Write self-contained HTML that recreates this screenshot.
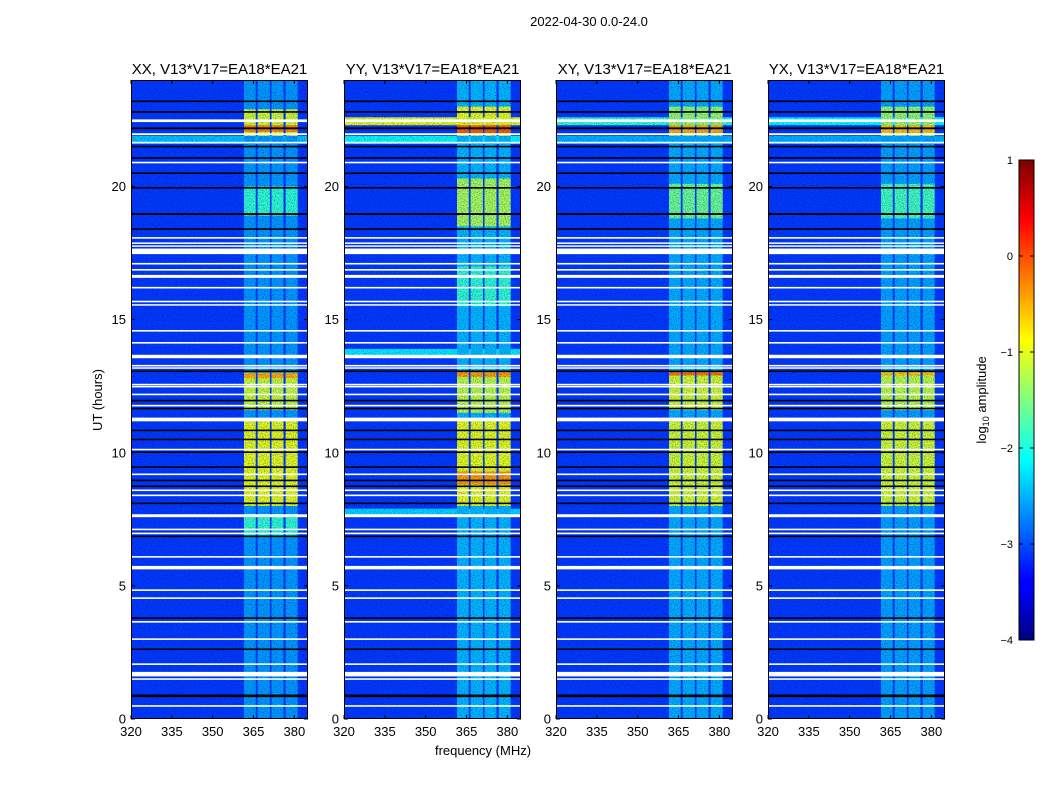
<!DOCTYPE html>
<html><head><meta charset="utf-8">
<style>
html,body{margin:0;padding:0;background:#fff;}
svg{display:block;font-family:"Liberation Sans",sans-serif;}
</style></head>
<body>
<svg id="fig" width="1050" height="800" viewBox="0 0 1050 800">
<defs>
<filter id="speckle" x="0" y="0" width="100%" height="100%">
<feTurbulence type="fractalNoise" baseFrequency="0.9" numOctaves="1" seed="3"/>
<feColorMatrix type="matrix" values="0 0 0 0 0  0 0 0 0 0  0 0 0 0 0.2  0 0 0 -2.0 1.15"/>
</filter>
<linearGradient id="jet" x1="0" y1="1" x2="0" y2="0">
<stop offset="0" stop-color="#00007f"/><stop offset="0.11" stop-color="#0000ff"/>
<stop offset="0.125" stop-color="#0000ff"/><stop offset="0.375" stop-color="#00ffff"/>
<stop offset="0.625" stop-color="#ffff00"/><stop offset="0.875" stop-color="#ff0000"/>
<stop offset="1" stop-color="#7f0000"/>
</linearGradient>
</defs>
<text x="589" y="26" font-size="13" text-anchor="middle">2022-04-30 0.0-24.0</text>
<text x="0" y="0" font-size="13" text-anchor="middle" transform="translate(102,400) rotate(-90)">UT (hours)</text>
<text x="483" y="755" font-size="13" text-anchor="middle">frequency (MHz)</text>
<g id="panels"></g>
<g id="cbar"></g>
</svg>
<script>
// ---- data ----
const titles = ["XX, V13*V17=EA18*EA21","YY, V13*V17=EA18*EA21","XY, V13*V17=EA18*EA21","YX, V13*V17=EA18*EA21"];
const freqBands = [[361.5,365.8],[366.5,371],[371.6,376],[376.8,381.2]];
const baseLevel = [-3.08,-3.08,-3.08,-3.08];
const quietBand = [-2.6,-2.45,-2.5,-2.55];
const burstsXX = [[21.9,22.9,-1.1],[22.05,22.3,-0.3],[18.9,20.0,-1.9],[11.6,13.0,-1.15],[12.8,13.0,-0.5],[8.0,11.2,-1.0],[6.9,7.7,-1.9]];
const burstsYY = [[21.9,23.0,-1.0],[22.0,22.3,-0.1],[18.5,20.3,-1.3],[15.5,17.0,-1.9],[11.5,13.0,-1.2],[12.85,13.05,-0.4],[8.0,11.2,-1.0],[8.8,9.3,-0.4]];
const burstsXY = [[21.9,23.0,-1.4],[22.0,22.3,-0.5],[18.8,20.1,-1.6],[11.6,13.0,-1.1],[12.9,13.05,-0.2],[8.0,11.2,-1.1]];
const burstsYX = [[21.9,23.0,-1.4],[22.0,22.3,-0.6],[18.8,20.1,-1.8],[11.6,13.0,-1.2],[12.9,13.05,-0.6],[8.0,11.2,-1.1]];
const rowsXX = [[21.6,21.9,-2.4]];
const rowsYY = [[22.3,22.6,-1.0],[21.6,21.9,-2.1],[13.6,13.9,-2.2],[7.6,7.9,-2.3]];
const rowsXY = [[22.3,22.6,-1.9],[21.6,21.9,-2.5]];
const rowsYX = [[22.3,22.6,-2.1],[21.6,21.9,-2.5]];
const flagWhite = [[22.42,22.52],[21.93,22.0],[21.62,21.68],[20.87,20.93],[18.04,18.1],[17.85,17.9],[17.74,17.79],[17.46,17.67],[17.07,17.13],[16.84,16.9],[16.57,16.68],[16.17,16.23],[15.65,15.71],[15.53,15.58],[14.55,14.61],[14.1,14.16],[13.55,13.68],[13.24,13.3],[13.16,13.21],[12.53,12.59],[12.46,12.51],[12.16,12.22],[11.74,11.8],[11.18,11.32],[10.09,10.15],[9.16,9.22],[8.56,8.62],[8.37,8.43],[7.58,7.69],[7.09,7.15],[6.94,7.0],[6.06,6.12],[5.62,5.75],[4.81,4.87],[4.51,4.57],[3.62,3.68],[2.97,3.03],[2.03,2.09],[1.6,1.77],[1.47,1.53],[0.46,0.52]];
const flagBlack = [[23.17,23.23],[22.77,22.83],[22.15,22.22],[21.47,21.53],[21.04,21.1],[20.47,20.53],[19.92,19.98],[18.93,19.0],[18.37,18.43],[13.03,13.09],[11.93,11.99],[11.63,11.69],[10.81,10.87],[10.47,10.53],[9.99,10.05],[9.43,9.49],[8.93,8.99],[8.71,8.77],[8.07,8.13],[6.83,6.89],[3.76,3.82],[2.59,2.65],[0.82,0.92]];
const panelBursts = [burstsXX,burstsYY,burstsXY,burstsYX];
const panelRows = [rowsXX,rowsYY,rowsXY,rowsYX];
const xTicks = [320,335,350,365,380];
const yTicks = [0,5,10,15,20];
const cbTicks = [1,0,-1,-2,-3,-4];

// ---- scales ----
const lefts=[131,344,556,768], PW=177, TOP=80, BOT=719;
const F0=320,F1=385,H0=0,H1=24,VMIN=-4,VMAX=1;
function xs(p,f){return lefts[p]+(f-F0)/(F1-F0)*PW;}
function ys(h){return BOT-(h-H0)/(H1-H0)*(BOT-TOP);}
function cl(v){return Math.max(0,Math.min(1,v));}
function jet(val){const v=cl((val-VMIN)/(VMAX-VMIN));
 const r=cl(1.5-Math.abs(4*v-3)),g=cl(1.5-Math.abs(4*v-2)),b=cl(1.5-Math.abs(4*v-1));
 return `rgb(${Math.round(r*255)},${Math.round(g*255)},${Math.round(b*255)})`;}
const NS="http://www.w3.org/2000/svg";
function el(tag,attrs,parent){const e=document.createElementNS(NS,tag);for(const k in attrs)e.setAttribute(k,attrs[k]);parent.appendChild(e);return e;}

const G=document.getElementById('panels');
for(let p=0;p<4;p++){
 const g=el('g',{},G);
 
 
 const bg=el('rect',{x:lefts[p],y:TOP,width:PW,height:BOT-TOP,fill:jet(baseLevel[p])},g);
 
 
 panelRows[p].forEach(r=>{
  const e=el('rect',{x:lefts[p],y:ys(r[1]),width:PW,height:ys(r[0])-ys(r[1]),fill:jet(r[2])},g);
  
  
 });
 freqBands.forEach(b=>{
  const e=el('rect',{x:xs(p,b[0]),y:TOP,width:xs(p,b[1])-xs(p,b[0]),height:BOT-TOP,fill:jet(quietBand[p])},g);
  
  
  panelBursts[p].forEach(r=>{
   const c=el('rect',{x:xs(p,b[0]),y:ys(r[1]),width:xs(p,b[1])-xs(p,b[0]),height:ys(r[0])-ys(r[1]),fill:jet(r[2])},g);
   
   
  });
 });
 el('rect',{x:lefts[p],y:TOP,width:PW,height:BOT-TOP,filter:'url(#speckle)',opacity:0.6},g);
 flagWhite.forEach(r=>{
  const e=el('rect',{x:lefts[p],y:ys(r[1]),width:PW,height:Math.max(1.5,ys(r[0])-ys(r[1])),fill:'#fff'},g);
  
  
 });
 flagBlack.forEach(r=>{
  const e=el('rect',{x:lefts[p],y:ys(r[1]),width:PW,height:Math.max(1.5,ys(r[0])-ys(r[1])),fill:'#000'},g);
  
  
 });
 el('rect',{x:lefts[p]+0.5,y:TOP+0.5,width:PW-1,height:BOT-TOP-1,fill:'none',stroke:'#000','stroke-width':1},g);
 const t=el('text',{x:lefts[p]+PW/2,y:74,'font-size':15,'text-anchor':'middle'},g);
 t.textContent=titles[p];
 
 
 xTicks.forEach(v=>{
  const x=xs(p,v);
  el('line',{x1:x,y1:BOT,x2:x,y2:BOT-4,stroke:'#000'},g);
  el('line',{x1:x,y1:TOP,x2:x,y2:TOP+4,stroke:'#000'},g);
  const l=el('text',{x:x,y:736,'font-size':13,'text-anchor':'middle'},g);
  l.textContent=v;
  
  
 });
 yTicks.forEach(v=>{
  const y=ys(v);
  el('line',{x1:lefts[p],y1:y,x2:lefts[p]+4,y2:y,stroke:'#000'},g);
  el('line',{x1:lefts[p]+PW,y1:y,x2:lefts[p]+PW-4,y2:y,stroke:'#000'},g);
  const l=el('text',{x:lefts[p]-5,y:y+4.5,'font-size':13,'text-anchor':'end'},g);
  l.textContent=v;
  
  
 });
}
// colorbar
const CB=document.getElementById('cbar');


const cbx=1019,cbw=15,cbt=160,cbb=640;
el('rect',{x:cbx,y:cbt,width:cbw,height:cbb-cbt,fill:'url(#jet)',stroke:'#000','stroke-width':1},CB);
cbTicks.forEach(v=>{
 const y=cbb-(v-VMIN)/(VMAX-VMIN)*(cbb-cbt);
 el('line',{x1:cbx,y1:y,x2:cbx+4,y2:y,stroke:'#000'},CB);
 el('line',{x1:cbx+cbw,y1:y,x2:cbx+cbw-4,y2:y,stroke:'#000'},CB);
 const l=el('text',{x:cbx-6,y:y+4,'font-size':11,'text-anchor':'end'},CB);
 l.textContent=v<0?'\u2212'+(-v):v;
 
 
});
const cl2=el('text',{x:0,y:0,'font-size':13,'text-anchor':'middle',transform:'translate(986,400) rotate(-90)'},CB);
cl2.innerHTML='log<tspan font-size="9" dy="3">10</tspan><tspan dy="-3"> amplitude</tspan>';


</script>
</body></html>
